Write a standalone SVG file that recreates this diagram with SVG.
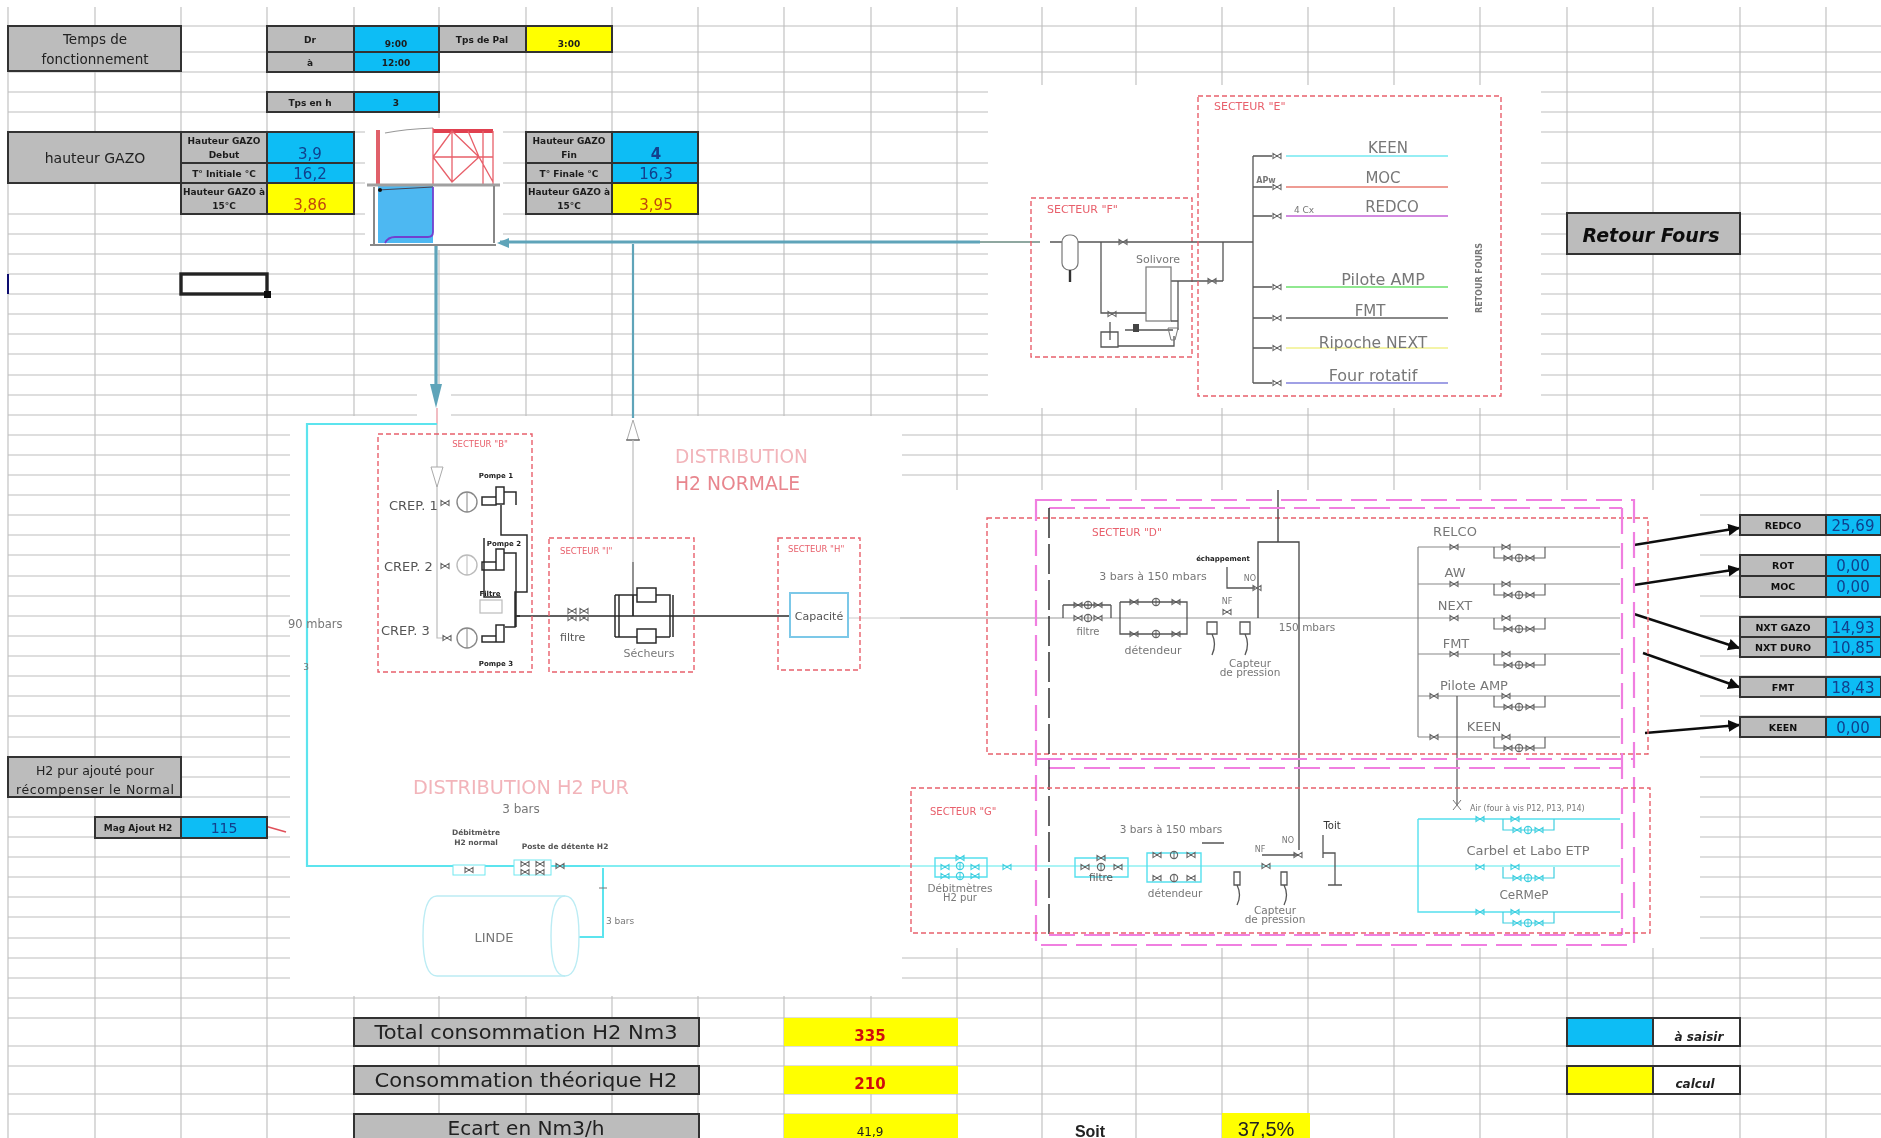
<svg xmlns="http://www.w3.org/2000/svg" width="1881" height="1138" viewBox="0 0 1881 1138" fill="#222">
<style>
text{font-family:"DejaVu Sans",Verdana,sans-serif;text-anchor:middle}
.l{text-anchor:start}
.gr{fill:none;stroke:#bdbdbd;stroke-width:1.1}
.g{fill:#bcbcbc;stroke:#303030;stroke-width:2}
.b{fill:#0dbdf5;stroke:#303030;stroke-width:2}
.y{fill:#ffff00;stroke:#303030;stroke-width:2}
.yn{fill:#ffff00}
.w{fill:#fff;stroke:#303030;stroke-width:2}
.s{font-size:9px;font-weight:700;fill:#1c1c1c}
.s7{font-size:7px;font-weight:700;fill:#1c1c1c}
.v{font-size:15px;fill:#123f8c}
.o{font-size:15px;fill:#c0480c}
.t{font-size:9.5px;font-weight:700;fill:#111}
.n{font-size:15px;fill:#123f8c}
.big{font-size:20px;fill:#202020}
.sec{fill:none;stroke:#e8606c;stroke-width:1.4;stroke-dasharray:5 3}
.st{fill:#e8606c}
.dt{fill:#777}
.pk{fill:none;stroke:#f07fe0;stroke-width:2.2;stroke-dasharray:26 9}
.p{fill:none;stroke:#555;stroke-width:1.3}
.d{fill:none;stroke:#2a2a2a;stroke-width:1.5}
.c{fill:none;stroke:#55e0ee;stroke-width:1.4}
.tl{fill:none;stroke:#5fa4b9;stroke-width:3.2}
.ar{fill:none;stroke:#111;stroke-width:2.4}
.gs{color:#666}
.cs{color:#3fcfe0}
.di{font-size:19px;fill:#f2b4ba}
.dk{font-size:19px;fill:#e8868e}
</style>
<defs>
<filter id="bl" filterUnits="userSpaceOnUse" x="0" y="0" width="1881" height="1138"><feGaussianBlur stdDeviation="0.45"/></filter>
<g id="vv"><path d="M-4-2.6L4 2.6V-2.6L-4 2.6Z" fill="none" stroke="currentColor" stroke-width="1.1"/></g>
<g id="mt"><circle r="3.6" fill="none" stroke="currentColor" stroke-width="1.2"/><path d="M0-3.6V3.6" stroke="currentColor" stroke-width="1"/></g>
<g id="bp"><path d="M0 0V11H51V0" fill="none" stroke="currentColor" stroke-width="1.2"/><use href="#vv" x="12" y="0"/><use href="#mt" x="25" y="11"/><use href="#vv" x="14" y="11"/><use href="#vv" x="36" y="11"/></g>
<marker id="ah" viewBox="0 0 10 10" refX="9" refY="5" markerWidth="5" markerHeight="5" orient="auto"><path d="M0 0L10 5L0 10Z" fill="#111"/></marker>
</defs>
<rect width="1881" height="1138" fill="#fff"/>
<g filter="url(#bl)">
<g id="grid">
<path class="gr" d="M8 7V1138M95 7V1138M181 7V1138M267 7V1138M354 7V1138M439 7V1138M526 7V1138M612 7V1138M698 7V1138M784 7V1138M871 7V1138M957 7V1138M1042 7V1138M1136 7V1138M1222 7V1138M1308 7V1138M1394 7V1138M1480 7V1138M1567 7V1138M1653 7V1138M1740 7V1138M1826 7V1138"/>
<path class="gr" d="M8 26H1881M8 52H1881M8 72H1881M8 92H1881M8 112H1881M8 132H1881M8 163H1881M8 183H1881M8 214H1881M8 234H1881M8 254H1881M8 274H1881M8 294H1881M8 314H1881M8 334H1881M8 354H1881M8 375H1881M8 395H1881M8 415H1881M8 435H1881M8 455H1881M8 475H1881M8 495H1881M8 515H1881M8 535H1881M8 555H1881M8 576H1881M8 596H1881M8 616H1881M8 636H1881M8 656H1881M8 676H1881M8 696H1881M8 716H1881M8 737H1881M8 757H1881M8 777H1881M8 797H1881M8 817H1881M8 837H1881M8 857H1881M8 877H1881M8 897H1881M8 917H1881M8 938H1881M8 958H1881M8 978H1881M8 998H1881M8 1018H1881M8 1046H1881M8 1066H1881M8 1094H1881M8 1114H1881"/>
<path d="M8 274V294" stroke="#101070" stroke-width="2"/>
<rect x="365" y="118" width="138" height="132" fill="#fff"/>
<rect x="988" y="85" width="553" height="323" fill="#fff"/>
<rect x="290" y="416" width="612" height="580" fill="#fff"/>
<rect x="902" y="490" width="798" height="458" fill="#fff"/>
<rect x="417" y="388" width="34" height="28" fill="#fff"/>
</g>

<g id="temps"><rect class="g" x="8" y="26" width="173" height="45"/><text x="95" y="44" font-size="13.5">Temps de</text><text x="95" y="64" font-size="13.5">fonctionnement</text></g>
<g id="dr"><rect class="g" x="267" y="26" width="87" height="26"/><rect class="b" x="354" y="26" width="85" height="26"/><text class="s" x="310" y="43">Dr</text><text class="s" x="396" y="47">9:00</text></g>
<g id="a"><rect class="g" x="267" y="52" width="87" height="20"/><rect class="b" x="354" y="52" width="85" height="20"/><text class="s" x="310" y="66">à</text><text class="s" x="396" y="66">12:00</text></g>
<g id="tpspal"><rect class="g" x="439" y="26" width="87" height="26"/><rect class="y" x="526" y="26" width="86" height="26"/><text class="s" x="482" y="43">Tps de Pal</text><text class="s" x="569" y="47">3:00</text></g>
<g id="tpsenh"><rect class="g" x="267" y="92" width="87" height="20"/><rect class="b" x="354" y="92" width="85" height="20"/><text class="s" x="310" y="106">Tps en h</text><text class="s" x="396" y="106">3</text></g>

<g id="hauteur"><rect class="g" x="8" y="132" width="173" height="51"/><text x="95" y="163" font-size="14">hauteur GAZO</text></g>
<g id="debut"><rect class="g" x="181" y="132" width="86" height="31"/><rect class="b" x="267" y="132" width="87" height="31"/><text class="s" x="224" y="144">Hauteur GAZO</text><text class="s" x="224" y="158">Debut</text><text class="v" x="310" y="159">3,9</text></g>
<g id="tinit"><rect class="g" x="181" y="163" width="86" height="20"/><rect class="b" x="267" y="163" width="87" height="20"/><text class="s" x="224" y="177">T° Initiale °C</text><text class="v" x="310" y="179">16,2</text></g>
<g id="h15a"><rect class="g" x="181" y="183" width="86" height="31"/><rect class="y" x="267" y="183" width="87" height="31"/><text class="s" x="224" y="195">Hauteur GAZO à</text><text class="s" x="224" y="209">15°C</text><text class="o" x="310" y="210">3,86</text></g>
<g id="fin"><rect class="g" x="526" y="132" width="86" height="31"/><rect class="b" x="612" y="132" width="86" height="31"/><text class="s" x="569" y="144">Hauteur GAZO</text><text class="s" x="569" y="158">Fin</text><text class="v" x="656" y="159" font-weight="700">4</text></g>
<g id="tfin"><rect class="g" x="526" y="163" width="86" height="20"/><rect class="b" x="612" y="163" width="86" height="20"/><text class="s" x="569" y="177">T° Finale °C</text><text class="v" x="656" y="179">16,3</text></g>
<g id="h15b"><rect class="g" x="526" y="183" width="86" height="31"/><rect class="y" x="612" y="183" width="86" height="31"/><text class="s" x="569" y="195">Hauteur GAZO à</text><text class="s" x="569" y="209">15°C</text><text class="o" x="656" y="210">3,95</text></g>
<g id="cellule"><rect x="181" y="274" width="86" height="20" fill="none" stroke="#222" stroke-width="3.4"/><rect x="264" y="291" width="7" height="7" fill="#111"/></g>

<g id="gazo">
<rect x="378" y="185" width="55" height="58" fill="#4db8f2"/>
<path d="M378 130V184" stroke="#e0606a" stroke-width="4" fill="none"/>
<path d="M385 133Q405 129 433 128" stroke="#999" stroke-width="1.2" fill="none"/>
<path d="M433 131H493" stroke="#e04050" stroke-width="4" fill="none"/>
<path d="M433 128V184M493 131V184M483 131V184M433 157H493M452 131V182M433 157L452 131L479 157L493 182M433 157L452 182L479 157M468 131L479 157" stroke="#e8606a" stroke-width="1.3" fill="none"/>
<path d="M367 185H500" stroke="#a0a0a0" stroke-width="3" fill="none"/>
<path d="M374 187V245M494 186V243M370 245H496" stroke="#888" stroke-width="2" fill="none"/>
<path d="M378 190L433 187" stroke="#445" stroke-width="1"/>
<circle cx="380" cy="190" r="2" fill="#111"/>
<path d="M385 243Q388 237 395 237H428Q433 237 433 232V187" stroke="#7040d0" stroke-width="1.8" fill="none"/>
</g>

<g id="connectors">
<path class="tl" d="M980 242H500"/>
<path d="M980 242H1040" stroke="#6a8a80" stroke-width="1.3" fill="none"/>
<path d="M497 243L509 238V248Z" fill="#5fa4b9"/>
<path class="tl" d="M436 246V398"/>
<path d="M430 384L436 408L442 384Z" fill="#5fa4b9"/>
<path d="M633 244V418" stroke="#5fa4b9" stroke-width="2.2" fill="none"/>
<path d="M633 420L627 440H639Z" fill="#fff" stroke="#aaa" stroke-width="1"/>
<path d="M626 440H640" stroke="#444" stroke-width="1"/>
<path d="M437 408V424" stroke="#e8909a" stroke-width="1.2"/>
<path d="M633 440V562" stroke="#bbb" stroke-width="1.2"/>
<path d="M633 562V616" stroke="#555" stroke-width="1.3"/>
<path d="M437 424V638H444" stroke="#bbb" stroke-width="1.2" fill="none"/>
<path d="M431 467L437 487L443 467Z" fill="#fff" stroke="#aaa" stroke-width="1"/>
<path d="M437 424H307V866H900" stroke="#5be4ee" stroke-width="2.2" fill="none"/>
<path d="M600 866H1620" stroke="#8ff0f2" stroke-width="1.6" fill="none"/>
<path d="M565 937H603V868" stroke="#5be4ee" stroke-width="2" fill="none"/>
<path d="M265 826L286 832" stroke="#e0505a" stroke-width="1.6"/>
<path d="M517 616H790" stroke="#2a2a2a" stroke-width="1.4"/>
<path d="M848 618H900" stroke="#ccc" stroke-width="1"/>
<path d="M900 618H1620" stroke="#bbb" stroke-width="1.4"/>
<path class="ar" marker-end="url(#ah)" d="M1634 545L1739 528"/>
<path class="ar" marker-end="url(#ah)" d="M1634 585L1739 569"/>
<path class="ar" marker-end="url(#ah)" d="M1634 614L1739 648"/>
<path class="ar" marker-end="url(#ah)" d="M1643 653L1739 687"/>
<path class="ar" marker-end="url(#ah)" d="M1645 733L1739 725"/>
</g>

<g id="secteur-f">
<rect class="sec" x="1031" y="198" width="161" height="159"/>
<text class="st l" x="1047" y="213" font-size="11">SECTEUR "F"</text>
<path class="p" d="M1050 242H1062M1078 242H1253M1101 242V313H1146M1171 281H1223M1223 242V281M1178 281V330"/>
<rect x="1062" y="235" width="16" height="35" rx="7" fill="#fff" stroke="#777" stroke-width="1.2"/>
<path d="M1070 270V282" stroke="#333" stroke-width="2.4"/>
<rect x="1146" y="267" width="25" height="54" fill="#fff" stroke="#777" stroke-width="1.2"/>
<text class="dt" x="1158" y="263" font-size="11">Solivore</text>
<g class="gs"><use href="#vv" x="1123" y="242"/><use href="#vv" x="1212" y="281"/><use href="#vv" x="1112" y="314"/></g>
<path class="p" d="M1101 332H1118V347H1101ZM1110 322V340M1125 330H1173M1118 346H1174V336M1171 321H1178"/>
<rect x="1133" y="324" width="6" height="8" fill="#444"/>
<path d="M1168 328H1178L1175 340H1171Z" fill="none" stroke="#777"/>
</g>

<g id="secteur-e">
<rect class="sec" x="1198" y="96" width="303" height="300"/>
<text class="st l" x="1214" y="110" font-size="11">SECTEUR "E"</text>
<path class="p" d="M1253 156V383M1253 156H1272M1253 187H1272M1253 216H1272M1253 287H1272M1253 318H1272M1253 348H1272M1253 383H1272"/>
<g class="gs"><use href="#vv" x="1277" y="156"/><use href="#vv" x="1277" y="187"/><use href="#vv" x="1277" y="216"/><use href="#vv" x="1277" y="287"/><use href="#vv" x="1277" y="318"/><use href="#vv" x="1277" y="348"/><use href="#vv" x="1277" y="383"/></g>
<path d="M1286 156H1448" stroke="#96eef4" stroke-width="1.8"/>
<path d="M1286 187H1448" stroke="#e87b70" stroke-width="1.4"/>
<path d="M1286 216H1448" stroke="#d28ae0" stroke-width="1.8"/>
<path d="M1286 287H1448" stroke="#90e890" stroke-width="1.8"/>
<path d="M1286 318H1448" stroke="#888" stroke-width="1.8"/>
<path d="M1286 348H1448" stroke="#f4f4a8" stroke-width="1.8"/>
<path d="M1286 383H1448" stroke="#8080dc" stroke-width="1.6"/>
<text class="dt" x="1388" y="153" font-size="15">KEEN</text>
<text class="dt" x="1383" y="183" font-size="15">MOC</text>
<text class="dt" x="1392" y="212" font-size="15">REDCO</text>
<text class="dt" x="1383" y="285" font-size="16">Pilote AMP</text>
<text class="dt" x="1370" y="316" font-size="15">FMT</text>
<text class="dt" x="1373" y="348" font-size="15.5">Ripoche NEXT</text>
<text class="dt" x="1373" y="381" font-size="16">Four rotatif</text>
<text class="dt" x="1266" y="183" font-size="8" font-weight="700">APw</text>
<text class="dt" x="1304" y="213" font-size="9">4 Cx</text>
<text class="dt" x="0" y="0" font-size="8" font-weight="700" transform="translate(1482 278) rotate(-90)">RETOUR FOURS</text>
</g>

<g id="retour"><rect class="g" x="1567" y="213" width="173" height="41"/><text x="1651" y="242" font-size="19" font-weight="700" font-style="italic" fill="#111">Retour Fours</text></g>

<g id="titres">
<text class="di l" x="675" y="463" textLength="133" lengthAdjust="spacingAndGlyphs">DISTRIBUTION</text>
<text class="dk l" x="675" y="490" textLength="125" lengthAdjust="spacingAndGlyphs">H2 NORMALE</text>
<text class="di" x="521" y="794" textLength="216" lengthAdjust="spacingAndGlyphs">DISTRIBUTION H2 PUR</text>
<text class="dt" x="521" y="813" font-size="12">3 bars</text>
</g>

<g id="secteur-b">
<rect class="sec" x="378" y="434" width="154" height="238"/>
<text class="st" x="480" y="447" font-size="8.5">SECTEUR "B"</text>
<text class="l" x="389" y="510" font-size="13" fill="#555">CREP. 1</text>
<text class="l" x="384" y="571" font-size="13" fill="#555">CREP. 2</text>
<text class="l" x="381" y="635" font-size="13" fill="#555">CREP. 3</text>
<g class="gs"><use href="#vv" x="445" y="503"/><use href="#vv" x="445" y="566"/><use href="#vv" x="447" y="638"/></g>
<circle cx="467" cy="502" r="10" fill="#fff" stroke="#888" stroke-width="1.4"/><path d="M467 492V512" stroke="#888"/>
<circle cx="467" cy="565" r="10" fill="#fff" stroke="#bbb" stroke-width="1.4"/><path d="M467 555V575" stroke="#bbb"/>
<circle cx="467" cy="638" r="10" fill="#fff" stroke="#888" stroke-width="1.4"/><path d="M467 628V648" stroke="#888"/>
<path class="d" d="M482 497H496V505H482ZM496 487H504V504H496ZM504 492H516V505M501 505V535H527V592H515V627H505M482 562H496V570H482ZM496 549H504V570H496ZM504 553H516V627M484 538V597H501M482 636H496V642H482ZM496 625H504V642H496ZM516 616H520"/>
<rect x="480" y="600" width="22" height="13" fill="none" stroke="#bbb" stroke-width="1.2"/>
<text class="s7" x="496" y="478">Pompe 1</text>
<text class="s7" x="504" y="546">Pompe 2</text>
<text class="s7" x="496" y="666">Pompe 3</text>
<text class="s7" x="490" y="596">Filtre</text>
<text class="dt l" x="288" y="628" font-size="11.5">90 mbars</text>
<text class="dt" x="306" y="670" font-size="9">3</text>
</g>

<g id="secteur-i">
<rect class="sec" x="549" y="538" width="145" height="134"/>
<text class="st l" x="560" y="554" font-size="8.5">SECTEUR "I"</text>
<g class="gs"><use href="#vv" x="572" y="611"/><use href="#vv" x="572" y="618"/><use href="#vv" x="584" y="611"/><use href="#vv" x="584" y="618"/></g>
<text class="l" x="560" y="641" font-size="11" fill="#555">filtre</text>
<path class="d" d="M615 595V637M619 595V637M615 637H637M656 637H670M637 595H633V616M615 595H637M656 595H670V637M673 595V637"/>
<rect x="637" y="588" width="19" height="14" fill="#fff" stroke="#2a2a2a" stroke-width="1.5"/>
<rect x="637" y="629" width="19" height="14" fill="#fff" stroke="#2a2a2a" stroke-width="1.5"/>
<text class="dt" x="649" y="657" font-size="11">Sécheurs</text>
</g>

<g id="secteur-h">
<rect class="sec" x="778" y="538" width="82" height="132"/>
<text class="st l" x="788" y="552" font-size="8.5">SECTEUR "H"</text>
<rect x="790" y="593" width="58" height="44" fill="#fff" stroke="#7cc8e8" stroke-width="2"/>
<text x="819" y="620" font-size="11" fill="#555">Capacité</text>
</g>

<g id="secteur-d">
<rect class="sec" x="987" y="518" width="661" height="236"/>
<text class="st l" x="1092" y="536" font-size="10.5">SECTEUR "D"</text>
<path d="M1278 490V542" stroke="#444" stroke-width="1.4"/>
<path d="M1258 618V542H1299V850" stroke="#444" stroke-width="1.3" fill="none"/>
<path class="p" d="M1227 567V588H1255"/>
<text x="1223" y="561" font-size="7" font-weight="700" fill="#222">échappement</text>
<text class="dt" x="1153" y="580" font-size="11">3 bars à 150 mbars</text>
<text class="dt" x="1307" y="631" font-size="10.5">150 mbars</text>
<text class="dt" x="1153" y="654" font-size="11">détendeur</text>
<text class="dt" x="1088" y="635" font-size="10">filtre</text>
<text class="dt" x="1250" y="667" font-size="10.5">Capteur</text>
<text class="dt" x="1250" y="676" font-size="10.5">de pression</text>
<text class="dt" x="1227" y="604" font-size="8">NF</text>
<text class="dt" x="1250" y="581" font-size="8">NO</text>
<g class="gs"><use href="#vv" x="1257" y="588"/><use href="#vv" x="1227" y="612"/><use href="#vv" x="1078" y="605"/><use href="#vv" x="1098" y="605"/><use href="#vv" x="1078" y="618"/><use href="#vv" x="1098" y="618"/><use href="#vv" x="1134" y="602"/><use href="#vv" x="1176" y="602"/><use href="#vv" x="1134" y="634"/><use href="#vv" x="1176" y="634"/><use href="#mt" x="1156" y="602"/><use href="#mt" x="1156" y="634"/><use href="#mt" x="1088" y="605"/><use href="#mt" x="1088" y="618"/></g>
<path class="p" d="M1063 605V618M1111 605V618M1063 605H1111M1120 602V634H1187V602H1120M1207 622H1217V634H1207ZM1240 622H1250V634H1240ZM1212 634Q1217 644 1212 655M1245 634Q1250 644 1245 655"/>
<text class="dt" x="1455" y="536" font-size="13">RELCO</text>
<text class="dt" x="1455" y="577" font-size="13">AW</text>
<text class="dt" x="1455" y="610" font-size="13">NEXT</text>
<text class="dt" x="1456" y="648" font-size="13">FMT</text>
<text class="dt" x="1474" y="690" font-size="13">Pilote AMP</text>
<text class="dt" x="1484" y="731" font-size="13">KEEN</text>
<path d="M1418 547H1620M1418 584H1620M1418 654H1620M1418 696H1620M1418 737H1620M1418 547V737" stroke="#888" stroke-width="1.2" fill="none"/>
<path d="M1457 696V805" stroke="#555" stroke-width="1.2"/>
<g class="gs"><use href="#vv" x="1454" y="547"/><use href="#vv" x="1454" y="584"/><use href="#vv" x="1454" y="618"/><use href="#vv" x="1454" y="654"/><use href="#vv" x="1434" y="696"/><use href="#vv" x="1434" y="737"/><use href="#bp" x="1494" y="547"/><use href="#bp" x="1494" y="584"/><use href="#bp" x="1494" y="618"/><use href="#bp" x="1494" y="654"/><use href="#bp" x="1494" y="696"/><use href="#bp" x="1494" y="737"/></g>
</g>

<g id="pink">
<path class="pk" d="M1036 500H1634V945H1036Z"/>
<path class="pk" d="M1049 508H1622"/>
<path class="pk" d="M1049 935H1622"/>
<path class="pk" d="M1036 759H1634M1049 768H1622"/>
<path class="pk" d="M1622 508V935"/>
<path d="M1049 508V935" fill="none" stroke="#222" stroke-width="1.4" stroke-dasharray="30 6"/>
</g>

<g id="secteur-g">
<rect class="sec" x="911" y="788" width="739" height="145"/>
<text class="st l" x="930" y="815" font-size="10">SECTEUR "G"</text>
<path class="c" d="M935 858H987V877H935ZM1075 858H1128V877H1075ZM1147 853H1201V882H1147Z"/>
<g class="cs"><use href="#vv" x="945" y="867"/><use href="#mt" x="960" y="866"/><use href="#vv" x="975" y="867"/><use href="#vv" x="945" y="876"/><use href="#mt" x="960" y="876"/><use href="#vv" x="975" y="876"/><use href="#vv" x="960" y="858"/><use href="#vv" x="1007" y="867"/></g>
<g class="gs"><use href="#vv" x="1085" y="867"/><use href="#mt" x="1101" y="867"/><use href="#vv" x="1118" y="867"/><use href="#vv" x="1101" y="858"/><use href="#vv" x="1157" y="855"/><use href="#mt" x="1174" y="855"/><use href="#vv" x="1191" y="855"/><use href="#vv" x="1157" y="878"/><use href="#mt" x="1174" y="878"/><use href="#vv" x="1191" y="878"/><use href="#vv" x="1298" y="855"/><use href="#vv" x="1266" y="866"/></g>
<text class="dt" x="960" y="892" font-size="10.5">Débitmètres</text>
<text class="dt" x="960" y="901" font-size="10">H2 pur</text>
<text x="1101" y="881" font-size="10.5" fill="#555">filtre</text>
<text class="dt" x="1171" y="833" font-size="10.5">3 bars à 150 mbars</text>
<text class="dt" x="1175" y="897" font-size="10.5">détendeur</text>
<text class="dt" x="1275" y="914" font-size="10.5">Capteur</text>
<text class="dt" x="1275" y="923" font-size="10.5">de pression</text>
<text class="dt" x="1260" y="852" font-size="8">NF</text>
<text class="dt" x="1288" y="843" font-size="8">NO</text>
<text x="1332" y="829" font-size="10" fill="#333">Toit</text>
<path class="p" d="M1262 855H1298M1234 872H1240V885H1234ZM1281 872H1287V885H1281ZM1237 885Q1242 895 1237 905M1284 885Q1289 895 1284 905M1323 835V858M1323 853H1335V885M1328 885H1342M1224 843H1202"/>
<path class="c" d="M1418 819H1620M1418 819V912H1620"/>
<path d="M1453 800L1461 810M1461 800L1453 810" stroke="#777"/>
<text class="dt l" x="1470" y="811" font-size="8">Air (four à vis P12, P13, P14)</text>
<g class="cs"><use href="#vv" x="1480" y="819"/><use href="#vv" x="1480" y="867"/><use href="#vv" x="1480" y="912"/><use href="#bp" x="1503" y="819"/><use href="#bp" x="1503" y="867"/><use href="#bp" x="1503" y="912"/></g>
<text class="dt" x="1528" y="855" font-size="13">Carbel  et Labo ETP</text>
<text class="dt" x="1524" y="899" font-size="12">CeRMeP</text>
</g>

<g id="linde">
<path d="M437 896H565Q579 896 579 936T565 976H437Q423 976 423 936T437 896Z" fill="#fff" stroke="#bcecf4" stroke-width="1.4"/>
<path d="M565 896Q551 896 551 936T565 976" fill="none" stroke="#bcecf4" stroke-width="1.4"/>
<text class="dt" x="494" y="942" font-size="13">LINDE</text>
<text class="dt l" x="606" y="924" font-size="9">3 bars</text>
<path d="M599 888H607" stroke="#777"/>
</g>
<g id="poste">
<rect x="453" y="865" width="32" height="10" fill="#fff" stroke="#70e8f0"/><rect x="514" y="860" width="37" height="15" fill="#fff" stroke="#70e8f0"/>
<text x="476" y="835" font-size="7.5" font-weight="700" fill="#555">Débitmètre</text>
<text x="476" y="845" font-size="7.5" font-weight="700" fill="#555">H2 normal</text>
<text x="565" y="849" font-size="7.5" font-weight="700" fill="#555">Poste de détente H2</text>
<g class="gs"><use href="#vv" x="469" y="870"/><use href="#vv" x="525" y="864"/><use href="#vv" x="525" y="872"/><use href="#vv" x="540" y="864"/><use href="#vv" x="540" y="872"/><use href="#vv" x="560" y="866"/></g>
</g>

<g id="redco"><rect class="g" x="1740" y="515" width="86" height="20"/><rect class="b" x="1826" y="515" width="55" height="20"/><text class="t" x="1783" y="529">REDCO</text><text class="n" x="1853" y="531">25,69</text></g>
<g id="rot"><rect class="g" x="1740" y="555" width="86" height="21"/><rect class="b" x="1826" y="555" width="55" height="21"/><text class="t" x="1783" y="569">ROT</text><text class="n" x="1853" y="571">0,00</text></g>
<g id="moc"><rect class="g" x="1740" y="576" width="86" height="21"/><rect class="b" x="1826" y="576" width="55" height="21"/><text class="t" x="1783" y="590">MOC</text><text class="n" x="1853" y="592">0,00</text></g>
<g id="nxtgazo"><rect class="g" x="1740" y="617" width="86" height="20"/><rect class="b" x="1826" y="617" width="55" height="20"/><text class="t" x="1783" y="631">NXT GAZO</text><text class="n" x="1853" y="633">14,93</text></g>
<g id="nxtduro"><rect class="g" x="1740" y="637" width="86" height="20"/><rect class="b" x="1826" y="637" width="55" height="20"/><text class="t" x="1783" y="651">NXT DURO</text><text class="n" x="1853" y="653">10,85</text></g>
<g id="fmt"><rect class="g" x="1740" y="677" width="86" height="20"/><rect class="b" x="1826" y="677" width="55" height="20"/><text class="t" x="1783" y="691">FMT</text><text class="n" x="1853" y="693">18,43</text></g>
<g id="keen"><rect class="g" x="1740" y="717" width="86" height="20"/><rect class="b" x="1826" y="717" width="55" height="20"/><text class="t" x="1783" y="731">KEEN</text><text class="n" x="1853" y="733">0,00</text></g>

<g id="h2pur"><rect class="g" x="8" y="757" width="173" height="40"/><text x="95" y="775" font-size="12.5">H2 pur ajouté pour</text><text x="95" y="794" font-size="12.5" textLength="158">récompenser le Normal</text></g>
<g id="magajout"><rect class="g" x="95" y="817" width="86" height="21"/><rect class="b" x="181" y="817" width="86" height="21"/><text class="s" x="138" y="831">Mag Ajout H2</text><text x="224" y="833" font-size="14" fill="#123f8c">115</text></g>

<g id="total"><rect class="g" x="354" y="1018" width="345" height="28"/><text class="big" x="526" y="1039" textLength="303" lengthAdjust="spacingAndGlyphs">Total consommation H2 Nm3</text></g>
<g id="theorique"><rect class="g" x="354" y="1066" width="345" height="28"/><text class="big" x="526" y="1087" textLength="303" lengthAdjust="spacingAndGlyphs">Consommation théorique H2</text></g>
<g id="ecart"><rect class="g" x="354" y="1114" width="345" height="26"/><text class="big" x="526" y="1135" textLength="157" lengthAdjust="spacingAndGlyphs">Ecart en Nm3/h</text></g>
<g id="v335"><rect class="yn" x="784" y="1018" width="174" height="28"/><text x="870" y="1041" font-size="15" font-weight="700" fill="#d01010">335</text></g>
<g id="v210"><rect class="yn" x="784" y="1066" width="174" height="28"/><text x="870" y="1089" font-size="15" font-weight="700" fill="#d01010">210</text></g>
<g id="v419"><rect class="yn" x="784" y="1114" width="174" height="24"/><text x="870" y="1136" font-size="12">41,9</text></g>
<g id="soit"><text x="1090" y="1137" font-size="16" font-weight="700" style="font-family:'Liberation Sans',sans-serif">Soit</text></g>
<g id="pct"><rect class="yn" x="1222" y="1113" width="88" height="25"/><text x="1266" y="1136" font-size="20" style="font-family:'Liberation Sans',sans-serif">37,5%</text></g>
<g id="saisir"><rect class="b" x="1567" y="1018" width="86" height="28"/><rect class="w" x="1653" y="1018" width="87" height="28"/><text x="1699" y="1041" font-size="12" font-weight="700" font-style="italic">à saisir</text></g>
<g id="calcul"><rect class="y" x="1567" y="1066" width="86" height="28"/><rect class="w" x="1653" y="1066" width="87" height="28"/><text x="1695" y="1088" font-size="12" font-weight="700" font-style="italic">calcul</text></g>
</g>
</svg>
